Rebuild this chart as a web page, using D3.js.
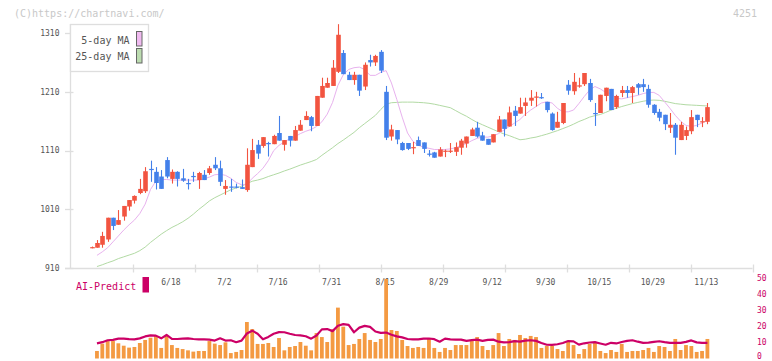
<!DOCTYPE html>
<html>
<head>
<meta charset="utf-8">
<script src="https://cdn.jsdelivr.net/npm/d3@7/dist/d3.min.js"></script>
<style>
html,body{margin:0;padding:0;background:#fff;}
svg{display:block;}
text{font-family:"DejaVu Sans Mono","Liberation Mono",monospace;}
</style>
</head>
<body>
<svg id="chart" width="772" height="361"></svg>
<script>
// ---------- DATA ----------
const dates = ["5/28","5/29","5/30","6/2","6/3","6/4","6/5","6/6","6/9","6/10","6/11","6/12","6/13","6/16","6/17","6/18","6/19","6/20","6/23","6/24","6/25","6/26","6/27","6/30","7/1","7/2","7/3","7/4","7/7","7/8","7/9","7/10","7/11","7/14","7/15","7/16","7/17","7/18","7/22","7/23","7/24","7/25","7/28","7/29","7/30","7/31","8/1","8/4","8/5","8/6","8/7","8/8","8/12","8/13","8/14","8/15","8/18","8/19","8/20","8/21","8/22","8/25","8/26","8/27","8/28","8/29","9/1","9/2","9/3","9/4","9/5","9/8","9/9","9/10","9/11","9/12","9/16","9/17","9/18","9/19","9/22","9/24","9/25","9/26","9/29","9/30","10/1","10/2","10/3","10/6","10/7","10/8","10/9","10/10","10/14","10/15","10/16","10/17","10/20","10/21","10/22","10/23","10/24","10/27","10/28","10/29","10/30","10/31","11/4","11/5","11/6","11/7","11/10","11/11","11/12","11/13"];

const open  = [945,945,950,959,996,984,998,1015,1025,1038,1041,1079,1074,1066,1094,1062,1074,1063,1055,1067,1060,1069,1072,1086,1080,1045,1049,1049,1048,1043,1082,1120,1118,1123,1121,1140,1120,1135,1127,1144,1162,1167,1152,1200,1217,1220,1244,1276,1239,1230,1239,1219,1264,1260,1278,1210,1134,1145,1123,1123,1115,1128,1124,1105,1107,1100,1109,1109,1108,1115,1122,1135,1149,1136,1130,1124,1142,1163,1151,1178,1173,1186,1195,1201,1201,1193,1173,1149,1157,1222,1211,1220,1223,1225,1174,1174,1203,1215,1184,1208,1213,1208,1223,1223,1215,1188,1176,1171,1149,1154,1128,1135,1143,1171,1159,1159];
const high  = [947,958,972,996,996,1009,1016,1026,1034,1062,1082,1093,1082,1077,1099,1078,1075,1079,1062,1074,1074,1077,1084,1099,1093,1060,1062,1054,1061,1114,1130,1128,1133,1125,1137,1169,1128,1135,1152,1162,1177,1169,1203,1234,1234,1264,1325,1281,1244,1244,1239,1260,1273,1273,1281,1220,1154,1145,1125,1123,1125,1134,1124,1111,1108,1116,1112,1123,1124,1130,1134,1149,1159,1142,1130,1138,1169,1163,1185,1186,1200,1200,1213,1210,1208,1193,1175,1176,1191,1230,1242,1234,1242,1232,1191,1205,1217,1215,1205,1220,1220,1220,1225,1232,1222,1189,1181,1171,1174,1157,1159,1151,1179,1171,1167,1191];
const low   = [944,945,945,955,975,984,991,1008,1020,1036,1038,1057,1044,1045,1063,1054,1049,1057,1044,1057,1045,1060,1069,1077,1050,1035,1040,1046,1045,1040,1082,1096,1115,1100,1121,1127,1110,1117,1127,1144,1162,1143,1152,1200,1217,1220,1242,1240,1230,1222,1203,1213,1253,1254,1242,1128,1127,1121,1110,1111,1104,1118,1106,1100,1098,1100,1099,1106,1101,1103,1115,1135,1132,1127,1120,1124,1142,1134,1151,1152,1173,1169,1186,1185,1198,1175,1144,1149,1155,1205,1205,1217,1220,1193,1152,1174,1194,1179,1181,1201,1200,1191,1205,1210,1183,1171,1160,1145,1140,1103,1128,1128,1138,1150,1150,1155];
const close = [946,953,965,996,982,992,1016,1026,1033,1045,1075,1077,1055,1045,1066,1074,1062,1059,1053,1066,1072,1060,1080,1080,1057,1050,1048,1048,1045,1086,1111,1105,1133,1122,1135,1127,1128,1127,1145,1154,1169,1152,1203,1220,1225,1251,1307,1240,1230,1239,1212,1256,1260,1271,1246,1132,1146,1129,1111,1113,1116,1118,1113,1104,1098,1112,1110,1110,1116,1127,1134,1146,1134,1127,1120,1138,1163,1147,1175,1169,1184,1192,1200,1202,1200,1179,1145,1159,1191,1212,1227,1221,1242,1196,1173,1205,1217,1179,1203,1213,1208,1218,1217,1218,1188,1174,1166,1155,1154,1132,1154,1145,1167,1162,1160,1184];

const ma5 = [null,932,938,945,955,965,975,984,992,1003,1019,1044,1058,1061,1061,1060,1060,1060,1060,1060,1060,1062,1065,1069,1070,1068,1063,1056,1052,1053,1063,1071,1080,1093,1110,1119,1125,1130,1134,1139,1143,1146,1151,1159,1172,1192,1221,1239,1248,1251,1252,1248,1238,1238,1243,1246,1225,1197,1167,1140,1126,1119,1116,1114,1112,1112,1112,1113,1115,1119,1122,1127,1131,1133,1133,1135,1139,1145,1151,1157,1163,1172,1179,1185,1191,1193,1191,1182,1176,1176,1179,1190,1202,1213,1219,1215,1209,1207,1199,1198,1200,1202,1204,1207,1209,1209,1204,1193,1182,1170,1160,1153,1151,1153,1157,1162];
const ma25 = [null,913,916,919.5,922.5,926.5,929.5,932.5,935.5,940,946,954,961,968,974,979.5,984,989,995,1002,1010,1017,1024.5,1030,1034.5,1039,1043.5,1046.5,1049.5,1054,1058,1060,1062.5,1066,1069,1072,1075.5,1078.5,1082,1085.5,1088.5,1091.5,1095,1102,1108.5,1115,1122,1128,1134.5,1141,1149,1156,1163,1170,1180,1189,1191.5,1192,1192.5,1192.5,1192.5,1192,1191.5,1190.5,1189,1187,1185,1183,1178,1173,1168.5,1163,1158,1154,1150,1146,1142,1138.5,1135.5,1132,1128.5,1129.5,1131.5,1133,1135.5,1138,1141,1144,1147.5,1151,1155,1159.5,1163,1167,1169.5,1171.5,1175,1179,1182,1185,1187.5,1190,1192,1194,1195.5,1196,1195.5,1194,1192,1190,1189,1188,1187.5,1187,1186.5,1186];

const volume = [null,4.7,9.3,10.9,10.9,9.5,8.0,6.8,7.2,9.7,11.6,13.0,14.1,6.6,14.1,8.4,6.6,5.9,5.1,4.3,4.7,4.7,10.9,9.3,8.4,10.1,3.4,4.1,5.3,22.8,18.4,9.1,9.1,9.7,7.2,12.8,5.1,7.2,7.8,10.3,8.0,5.1,15.9,13.4,10.3,18.2,31.8,19.9,8.4,9.1,12.2,15.9,11.6,10.3,12.2,49.7,17.8,17.2,11.6,7.8,6.6,7.2,6.6,12.8,6.6,4.1,6.6,5.3,8.4,8.4,8.4,10.9,13.4,7.8,5.3,8.4,15.9,7.8,12.2,11.6,14.7,12.8,14.1,13.4,6.6,7.8,7.8,5.9,4.7,10.3,8.4,2.8,5.9,9.1,9.7,4.7,3.4,5.3,4.1,9.1,4.1,4.7,4.7,5.3,6.6,4.1,7.8,7.2,4.7,12.2,5.3,8.4,7.8,4.1,4.7,12.2];
const aiPredict = [null,9.5,10.2,11.4,11.6,12.4,12.4,12.1,12.0,12.6,13.8,14.5,14.3,12.6,14.7,12.3,12.2,12.4,12.6,12.2,11.9,11.9,11.8,11.2,12.6,11.2,11.4,10.2,11.2,15.6,17.4,15.5,12.0,13.5,15.5,16.5,16.4,15.5,14.7,14.5,13.9,12.4,14.4,18.2,18.4,17.1,20.5,21.5,21.0,16.4,19.3,20.4,19.8,16.9,16.0,16.2,14.8,13.8,13.2,12.2,11.9,12.0,12.4,12.5,12.1,10.5,12.4,12.0,11.8,11.8,11.0,11.5,11.8,11.0,11.6,11.8,10.5,10.1,10.2,10.9,10.5,11.2,11.4,11.0,9.7,8.6,8.5,8.9,9.7,10.9,10.7,8.7,9.5,10.0,10.2,9.4,8.6,9.8,9.4,10.3,11.0,11.4,10.5,9.8,9.9,10.4,10.8,10.2,9.8,9.8,9.8,10.4,11.3,10.1,9.8,9.8];

const priceTicks = [910,1010,1110,1210,1310];
const volumeTicks = [0,10,20,30,40,50];
const labelDates = ["6/18","7/2","7/16","7/31","8/15","8/29","9/12","9/30","10/15","10/29","11/13"];
const gridTickCount = 11;

// ---------- STYLE ----------
const UP = "#f25440", DOWN = "#4380ea", VOL = "#f49a42", AI = "#cc0066";
const MA5C = "#e8b2ee", MA25C = "#b2daa4", AXIS = "#dedede", TXT = "#555";

// ---------- SCALES ----------
const svg = d3.select("#chart");
const x = d3.scaleLinear().domain([0, dates.length - 1]).range([91.6, 707.4]);
const y = d3.scaleLinear().domain([910, 1310]).range([268.3, 33]);
const yv = d3.scaleLinear().domain([0, 50]).range([358.5, 278.5]);
const xt = d3.scaleLinear().domain([0, gridTickCount]).range([70.5, 752.5]);

// header texts
svg.append("text").attr("x", 14).attr("y", 16.5).attr("font-size", 10).attr("fill", "#c8c8c8").text("(C)https://chartnavi.com/");
svg.append("text").attr("x", 757).attr("y", 16.5).attr("font-size", 10).attr("fill", "#c8c8c8").attr("text-anchor", "end").text("4251");

// axes
svg.append("line").attr("x1", 70.5).attr("x2", 70.5).attr("y1", 24).attr("y2", 268.5).attr("stroke", AXIS).attr("stroke-width", 1.3);
svg.append("line").attr("x1", 65).attr("x2", 752.5).attr("y1", 268.5).attr("y2", 268.5).attr("stroke", AXIS).attr("stroke-width", 1.3);

const yAx = svg.append("g");
yAx.selectAll("line").data(priceTicks).join("line")
  .attr("x1", 65).attr("x2", 73.5)
  .attr("y1", d => Math.round(y(d)) + 0.5).attr("y2", d => Math.round(y(d)) + 0.5)
  .attr("stroke", AXIS).attr("stroke-width", 1.3);
yAx.selectAll("text").data(priceTicks).join("text")
  .attr("x", 59.5).attr("y", d => y(d) + 2.8)
  .attr("text-anchor", "end").attr("font-size", 8).attr("fill", TXT).text(d => d);

svg.append("g").selectAll("line").data(d3.range(1, gridTickCount + 1)).join("line")
  .attr("x1", d => Math.round(xt(d)) + 0.5).attr("x2", d => Math.round(xt(d)) + 0.5)
  .attr("y1", 264.5).attr("y2", 272.5).attr("stroke", AXIS).attr("stroke-width", 1.3);

svg.append("g").selectAll("text").data(labelDates).join("text")
  .attr("x", d => x(dates.indexOf(d)) - 1).attr("y", 284.5)
  .attr("text-anchor", "middle").attr("font-size", 8).attr("fill", TXT).text(d => d);

// moving averages
const idx = d3.range(dates.length);
const lineGen = arr => d3.line().defined(i => arr[i] != null).x(i => x(i)).y(i => y(arr[i]))(idx);
svg.append("path").attr("d", lineGen(ma25)).attr("fill", "none").attr("stroke", MA25C).attr("stroke-width", 1);
svg.append("path").attr("d", lineGen(ma5)).attr("fill", "none").attr("stroke", MA5C).attr("stroke-width", 1);

// candles
const cw = 4.6;
const candles = svg.append("g").selectAll("g").data(idx).join("g");
candles.append("line")
  .attr("x1", i => Math.round(x(i)) + 0.5).attr("x2", i => Math.round(x(i)) + 0.5)
  .attr("y1", i => y(high[i])).attr("y2", i => y(low[i]))
  .attr("stroke", i => close[i] >= open[i] ? UP : DOWN).attr("stroke-width", 1.1);
candles.append("rect")
  .attr("x", i => Math.round(x(i)) + 0.5 - cw / 2).attr("width", cw)
  .attr("y", i => y(Math.max(open[i], close[i])))
  .attr("height", i => Math.max(1.2, Math.abs(y(open[i]) - y(close[i]))))
  .attr("fill", i => close[i] >= open[i] ? UP : DOWN);

// legend
svg.append("rect").attr("x", 70.5).attr("y", 24.5).attr("width", 78).attr("height", 47)
  .attr("fill", "#fff").attr("stroke", AXIS).attr("stroke-width", 1.3);
const legendItems = [["5-day MA", "#f0baf0", 43.5, 31.5], ["25-day MA", "#bcdcb0", 59.5, 48.5]];
legendItems.forEach(([t, c, ty, ry]) => {
  svg.append("text").attr("x", 129.5).attr("y", ty).attr("text-anchor", "end").attr("font-size", 10).attr("fill", TXT).text(t);
  svg.append("rect").attr("x", 136.5).attr("y", ry).attr("width", 5.5).attr("height", 14.5)
    .attr("fill", c).attr("stroke", "#666").attr("stroke-width", 1);
});

// volume panel
svg.append("text").attr("x", 76).attr("y", 290).attr("font-size", 10).attr("fill", AI).text("AI-Predict");
svg.append("rect").attr("x", 142.5).attr("y", 277).attr("width", 6.5).attr("height", 15.5).attr("fill", AI);

svg.append("g").selectAll("rect").data(idx.filter(i => volume[i] != null)).join("rect")
  .attr("x", i => x(i) - 1.9).attr("width", 3.8)
  .attr("y", i => yv(volume[i])).attr("height", i => yv(0) - yv(volume[i]))
  .attr("fill", VOL);

svg.append("path")
  .attr("d", d3.line().defined(i => aiPredict[i] != null).x(i => x(i)).y(i => yv(aiPredict[i]))(idx))
  .attr("fill", "none").attr("stroke", AI).attr("stroke-width", 2.2).attr("stroke-linejoin", "round");

svg.append("g").selectAll("text").data(volumeTicks).join("text")
  .attr("x", 757).attr("y", d => Math.min(yv(d) + 2.8, 359.2)).attr("font-size", 8).attr("fill", AI).text(d => d);
</script>
</body>
</html>
